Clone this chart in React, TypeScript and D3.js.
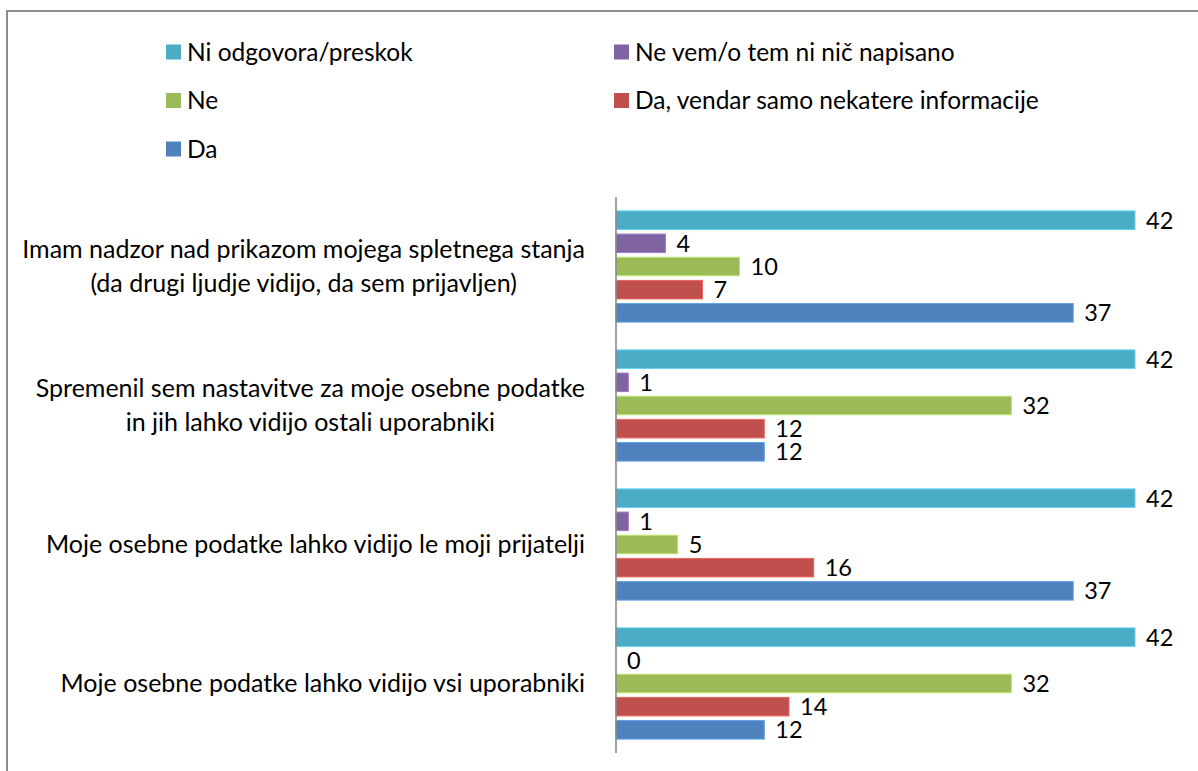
import { useEffect, useRef } from 'react'
import * as d3 from 'd3'

// categories, top to bottom
const categories: string[][] = [
  ['Imam nadzor nad prikazom mojega spletnega stanja', '(da drugi ljudje vidijo, da sem prijavljen)'],
  ['Spremenil sem nastavitve za moje osebne podatke', 'in jih lahko vidijo ostali uporabniki'],
  ['Moje osebne podatke lahko vidijo le moji prijatelji'],
  ['Moje osebne podatke lahko vidijo vsi uporabniki'],
]

// series, in the order the bars stack inside a group (top to bottom)
const seriesNames = [
  'Ni odgovora/preskok',
  'Ne vem/o tem ni nič napisano',
  'Ne',
  'Da, vendar samo nekatere informacije',
  'Da',
]
const seriesColors = ['#4BACC6', '#8064A2', '#9BBB59', '#C0504D', '#4F81BD']

const niOdgovora = [42, 42, 42, 42]
const neVem = [4, 1, 1, 0]
const ne = [10, 32, 5, 32]
const daVendar = [7, 12, 16, 14]
const da = [37, 12, 37, 12]

const seriesValues = [niOdgovora, neVem, ne, daVendar, da]

// legend order as shown (row by row, two columns)
const legendOrder = [0, 1, 2, 3, 4]

export default function App() {
  const svgRef = useRef<SVGSVGElement>(null)

  useEffect(() => {
    if (!svgRef.current) return
    document.body.style.margin = '0'

    const width = 1198
    const height = 771
    const font = 'Lato, "Open Sans", sans-serif'
    const labelSize = 25
    const legendSize = 24.5
    const valueSize = 23.5

    const svg = d3.select(svgRef.current)
    svg.selectAll('*').remove()
    svg.attr('width', width).attr('height', height)

    svg.append('rect').attr('width', width).attr('height', height).attr('fill', '#fff')

    // frame (right and bottom edges fall outside the picture)
    svg
      .append('rect')
      .attr('x', 7)
      .attr('y', 11)
      .attr('width', width + 20)
      .attr('height', height + 20)
      .attr('fill', 'none')
      .attr('stroke', '#8c8c8c')
      .attr('stroke-width', 2)

    // Legend
    const legend = svg.append('g')
    legendOrder.forEach((s, i) => {
      const col = i % 2
      const row = Math.floor(i / 2)
      const lx = col === 0 ? 166 : 614
      const ly = 52 + row * 48.5
      legend
        .append('rect')
        .attr('x', lx)
        .attr('y', ly - 7.5)
        .attr('width', 15)
        .attr('height', 15)
        .attr('fill', seriesColors[s])
      legend
        .append('text')
        .attr('x', lx + 21)
        .attr('y', ly)
        .attr('dy', '0.35em')
        .style('font-family', font)
        .style('font-size', `${legendSize}px`)
        .style('fill', '#000')
        .text(seriesNames[s])
    })

    const axisX = 616
    const y0 = d3
      .scaleBand<number>()
      .domain(d3.range(categories.length))
      .range([197, 753])
    const y1 = d3
      .scaleBand<number>()
      .domain(d3.range(seriesNames.length))
      .range([0, y0.bandwidth()])
      .paddingInner(0.2)
      .paddingOuter(0.6)
    const x = d3.scaleLinear().domain([0, 42]).range([axisX, 1135])

    // Bars
    const groups = svg
      .selectAll('.group')
      .data(categories)
      .enter()
      .append('g')
      .attr('class', 'group')
      .attr('transform', (d, i) => `translate(0,${y0(i)})`)

    seriesValues.forEach((vals, s) => {
      groups
        .append('rect')
        .attr('x', x(0))
        .attr('y', y1(s)!)
        .attr('width', (d, i) => x(vals[i]) - x(0))
        .attr('height', y1.bandwidth())
        .attr('fill', seriesColors[s])
        .attr('stroke', (d, i) => (vals[i] > 0 ? d3.color(seriesColors[s])!.brighter(0.6).toString() : 'none'))
        .attr('stroke-width', 1)

      groups
        .append('text')
        .attr('x', (d, i) => x(vals[i]) + 11)
        .attr('y', y1(s)! + y1.bandwidth() / 2)
        .attr('dy', '0.36em')
        .style('font-family', font)
        .style('font-size', `${valueSize}px`)
        .style('fill', '#000')
        .text((d, i) => vals[i])
    })

    // Category axis line
    svg
      .append('line')
      .attr('x1', axisX)
      .attr('x2', axisX)
      .attr('y1', 197)
      .attr('y2', 753)
      .attr('stroke', '#868686')
      .attr('stroke-width', 1.5)

    // Category labels: centered lines, block right-aligned at the axis
    const lineH = 34
    categories.forEach((lines, i) => {
      const cy = y0(i)! + y0.bandwidth() / 2
      const g = svg.append('g')
      const texts = lines.map((line, j) =>
        g
          .append('text')
          .attr('y', cy + (j - (lines.length - 1) / 2) * lineH)
          .attr('dy', '0.35em')
          .attr('text-anchor', 'middle')
          .style('font-family', font)
          .style('font-size', `${labelSize}px`)
          .style('fill', '#000')
          .text(line)
      )
      const maxW = d3.max(texts, t => (t.node() as SVGTextElement).getComputedTextLength()) || 0
      texts.forEach(t => t.attr('x', 585 - maxW / 2))
    })
  }, [])

  return <svg ref={svgRef} style={{ display: 'block' }}></svg>
}
